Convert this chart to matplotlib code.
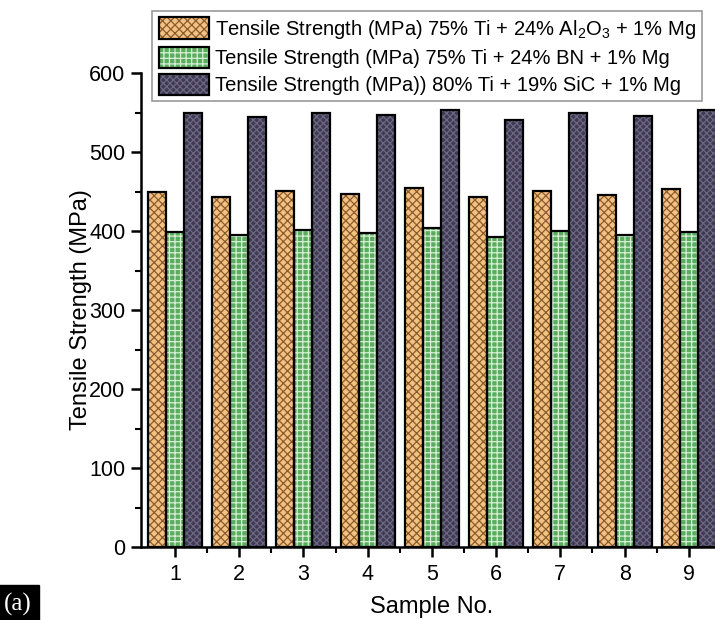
import matplotlib.pyplot as plt
import numpy as np

# sample numbers on the x axis
samples = [1, 2, 3, 4, 5, 6, 7, 8, 9]

# tensile strength values (MPa)
al2o3 = [450, 443, 451, 447, 454, 443, 451, 446, 453]
bn = [399, 395, 401, 397, 404, 393, 400, 395, 399]
sic = [549, 544, 550, 547, 553, 541, 550, 546, 553]

labels = [
    "Tensile Strength (MPa) 75% Ti + 24% Al$_2$O$_3$ + 1% Mg",
    "Tensile Strength (MPa) 75% Ti + 24% BN + 1% Mg",
    "Tensile Strength (MPa)) 80% Ti + 19% SiC + 1% Mg",
]

plt.rcParams['font.family'] = ['Liberation Sans', 'DejaVu Sans']
plt.rcParams['mathtext.fontset'] = 'custom'
plt.rcParams['mathtext.rm'] = 'Liberation Sans'
plt.rcParams['hatch.linewidth'] = 0.9

fig = plt.figure(figsize=(7.15, 6.2), dpi=100)
ax = fig.add_axes([0.197, 0.1177, 0.814, 0.7645])

x = np.array(samples)
w = 0.28
series = [al2o3, bn, sic]
faces = ['#f2c282', '#5aad5e', '#3f3a52']
hatch_cols = ['#8a5a30', '#d6eed4', '#6c6884']
hatches = ['xxxx', '+++', 'xxxxx']

handles = []
for i, vals in enumerate(series):
    pos = x + (i - 1) * w
    hb = ax.bar(pos, vals, w, color=faces[i], edgecolor=hatch_cols[i],
                hatch=hatches[i], linewidth=0, zorder=2)
    ob = ax.bar(pos, vals, w, fill=False, edgecolor='black', linewidth=1.6, zorder=3)
    handles.append((hb[0], ob[0]))

ax.set_xlim(0.47, 9.53)
ax.set_ylim(0, 600)
ax.set_xticks(samples)
ax.set_xticks(x[:-1] + 0.5, minor=True)
ax.set_yticks(range(0, 601, 100))
ax.set_yticks(range(50, 600, 100), minor=True)

for side in ['top', 'right']:
    ax.spines[side].set_visible(False)
for side in ['left', 'bottom']:
    ax.spines[side].set_linewidth(1.8)

ax.tick_params(which='major', direction='out', length=7, width=1.8, labelsize=15.5)
ax.tick_params(which='minor', direction='out', length=4, width=1.5)
ax.tick_params(axis='x', pad=5)
ax.tick_params(axis='y', pad=4)

ax.set_xlabel("Sample No.", fontsize=17, labelpad=8)
ax.set_ylabel("Tensile Strength (MPa)", fontsize=17, labelpad=-2)

leg = ax.legend(handles, labels, loc='upper left', bbox_to_anchor=(0.02, 1.13),
                fontsize=14.5, handlelength=2.5, handleheight=1.25,
                handletextpad=0.3, labelspacing=0.28, borderpad=0.3,
                borderaxespad=0, fancybox=False, framealpha=1,
                edgecolor='#999999')
leg.get_frame().set_linewidth(1.2)
leg.set_zorder(5)

fig.text(0.006, 0.016, "(a)", fontsize=18, color='white', family='Liberation Serif',
         bbox=dict(facecolor='black', edgecolor='black', pad=5))

fig.savefig("out.png", dpi=100)
